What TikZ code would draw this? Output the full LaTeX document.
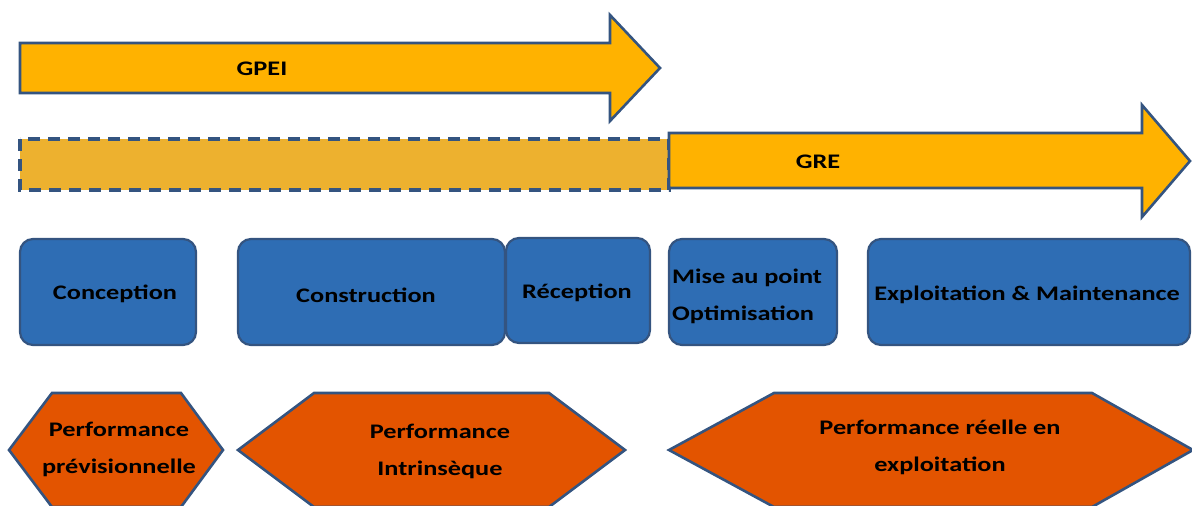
\documentclass[tikz,border=0pt]{standalone}
\usepackage{fontspec}
\setmainfont[FakeStretch=1.27]{Carlito}
\definecolor{arrowfill}{RGB}{255,178,0}
\definecolor{dashfill}{RGB}{237,177,47}
\definecolor{edgeblue}{RGB}{52,84,128}
\definecolor{boxblue}{RGB}{46,109,180}
\definecolor{hexorange}{RGB}{227,84,0}
\tikzset{
  arrowshape/.style={fill=arrowfill,draw=edgeblue,line width=2.6pt,line join=miter},
  dashbox/.style={fill=dashfill,draw=edgeblue,line width=3.2pt,dash pattern=on 12pt off 8pt},
  phase/.style={draw=edgeblue,fill=boxblue,line width=2.2pt,rounded corners=13pt},
  hexshape/.style={fill=hexorange,draw=edgeblue,line width=2.6pt,line join=miter},
  lbl/.style={font=\bfseries\fontsize{20.7}{37}\selectfont,text=black,inner sep=0pt,align=center},
}
\begin{document}
\begin{tikzpicture}[x=1pt,y=-1pt]
\useasboundingbox (0,0) rectangle (1192,506);
% GPEI arrow
\draw[arrowshape] (20,43) -- (610,43) -- (610,15) -- (660,68) -- (610,121) -- (610,93) -- (20,93) -- cycle;
\node[lbl] (gpei) at (262,69) {GPEI};
% dashed extension
\draw[dashbox] (20,139) rectangle (669,190);
% GRE arrow
\draw[arrowshape] (669,133) -- (1142,133) -- (1142,105) -- (1190,161) -- (1142,217) -- (1142,188) -- (669,188) -- cycle;
\node[lbl] (gre) at (818,162) {GRE};
% phases
\draw[phase] (20,239) rectangle (196,345);
\node[lbl] (conc) at (115,294) {Conception};
\draw[phase] (238,239) rectangle (505,345);
\node[lbl] (constr) at (366,295) {Construction};
\draw[phase] (506,238) rectangle (650,343);
\node[lbl] (recep) at (577,293) {Réception};
\draw[phase] (669,239) rectangle (837,345);
\node[lbl,align=left,anchor=west] (mise) at (672,296) {Mise au point\\Optimisation};
\draw[phase] (868,239) rectangle (1190,345);
\node[lbl] (expl) at (1027,295) {Exploitation \& Maintenance};
% performance hexagons
\draw[hexshape] (9,450) -- (52,393) -- (181,393) -- (223,450) -- (181,507) -- (52,507) -- cycle;
\node[lbl] (perfprev) at (119,449) {Performance\\prévisionnelle};
\draw[hexshape] (238,450) -- (314,393) -- (549,393) -- (625,450) -- (549,507) -- (314,507) -- cycle;
\node[lbl] (perfintr) at (440,451) {Performance\\Intrinsèque};
\draw[hexshape] (669,450) -- (774,393) -- (1092,393) -- (1193,450) -- (1092,507) -- (774,507) -- cycle;
\node[lbl] (perfreel) at (940,447) {Performance réelle en\\exploitation};
\end{tikzpicture}
\end{document}
